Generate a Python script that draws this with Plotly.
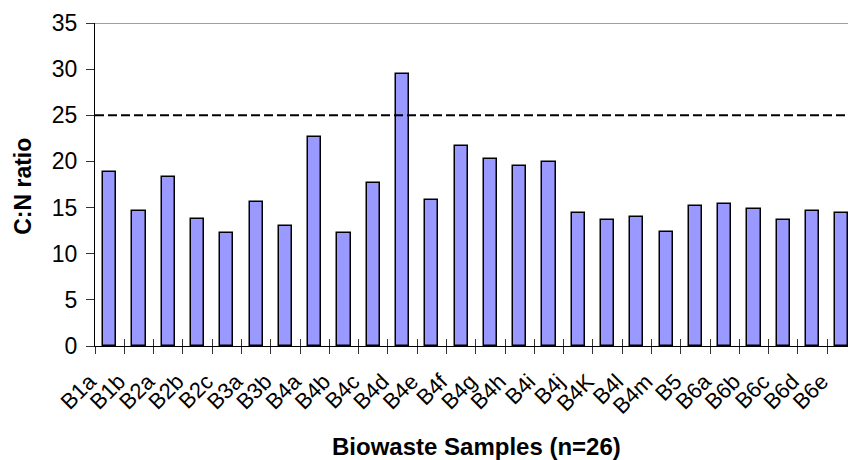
import plotly.graph_objects as go

# C:N ratio per biowaste sample
samples = ["B1a", "B1b", "B2a", "B2b", "B2c", "B3a", "B3b", "B4a", "B4b", "B4c",
           "B4d", "B4e", "B4f", "B4g", "B4h", "B4i", "B4j", "B4K", "B4l", "B4m",
           "B5", "B6a", "B6b", "B6c", "B6d", "B6e"]
cn_ratio = [18.9, 14.6, 18.3, 13.8, 12.2, 15.6, 13.0, 22.6, 12.2, 17.7,
            29.5, 15.8, 21.7, 20.3, 19.5, 19.9, 14.4, 13.6, 14.0, 12.35,
            15.2, 15.4, 14.8, 13.6, 14.6, 14.4]
y_ticks = [0, 5, 10, 15, 20, 25, 30, 35]
threshold = 25

FONT = "Liberation Sans, Arial, sans-serif"
x_idx = list(range(len(samples)))
x_range = [-0.5, 25.21]
bounds = [i - 0.5 for i in range(len(samples) + 1)]

fig = go.Figure()
fig.add_trace(go.Bar(
    x=x_idx, y=cn_ratio, width=0.45,
    marker=dict(color="#9999FF", line=dict(color="black", width=1.5)),
    showlegend=False,
))

# reference threshold line
fig.add_trace(go.Scatter(
    x=x_range, y=[threshold, threshold], mode="lines",
    line=dict(color="black", width=2, dash="9px,4px"),
    showlegend=False, hoverinfo="skip",
))

# inner half of the crossing category ticks
fig.add_trace(go.Scatter(x=[0], y=[0], xaxis="x2", mode="markers",
                         marker=dict(opacity=0), showlegend=False, hoverinfo="skip"))

fig.update_layout(
    width=848, height=460,
    margin=dict(l=95, r=0, t=23, b=114),
    paper_bgcolor="white", plot_bgcolor="white",
    font=dict(family=FONT, color="black", size=20),
    bargap=0,
    xaxis=dict(
        range=x_range, tickmode="array",
        tickvals=x_idx, ticktext=samples, tickangle=-45,
        ticks="", showline=True, linecolor="black", linewidth=1,
        showgrid=False, zeroline=False,
        ticklabeloverflow="allow", ticklabelshift=-20, ticklabelstandoff=13,
        minor=dict(tickmode="array", tickvals=bounds,
                   ticks="outside", ticklen=7, tickcolor="#333", tickwidth=1),
        tickfont=dict(size=22, family=FONT),
    ),
    xaxis2=dict(
        overlaying="x", anchor="y", side="bottom", range=x_range,
        tickmode="array", tickvals=bounds,
        ticks="inside", ticklen=7, tickcolor="#333", tickwidth=1,
        showticklabels=False, showgrid=False, zeroline=False, showline=False,
    ),
    yaxis=dict(
        range=[0, 35], tickmode="array", tickvals=y_ticks,
        ticks="outside", ticklen=8, tickcolor="#333", tickwidth=1,
        showline=True, linecolor="black", linewidth=1,
        showgrid=False, zeroline=False, ticklabelstandoff=4,
        tickfont=dict(size=23, family=FONT),
    ),
    shapes=[dict(type="line", xref="paper", yref="y", x0=0, x1=1, y0=35, y1=35,
                 line=dict(color="#808080", width=1.5))],
    annotations=[
        dict(text="<b>C:N ratio</b>", xref="paper", yref="paper", x=-0.096, y=0.495,
             xanchor="center", yanchor="middle", textangle=-90, showarrow=False,
             font=dict(size=23, family=FONT)),
        dict(text="<b>Biowaste Samples (n=26)</b>", xref="paper", yref="paper",
             x=0.507, y=-0.31, xanchor="center", yanchor="middle", showarrow=False,
             font=dict(size=24, family=FONT)),
    ],
)

fig.write_html("out.html")
